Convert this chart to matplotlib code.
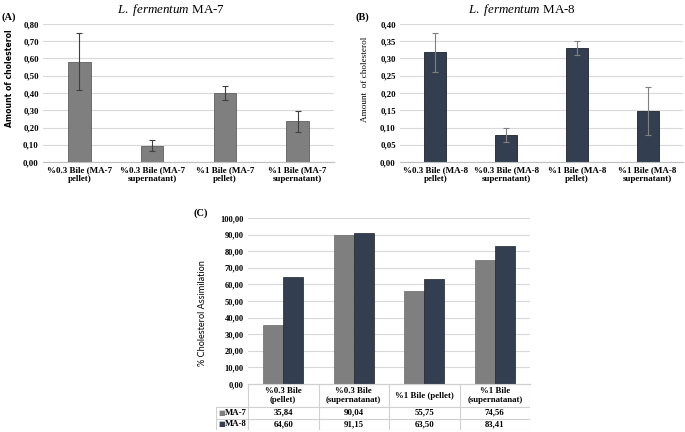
import numpy as np
import matplotlib
matplotlib.use("Agg")
import matplotlib.pyplot as plt

plt.rcParams['mathtext.fontset'] = 'custom'
plt.rcParams['mathtext.it'] = 'Liberation Serif:italic'
plt.rcParams['mathtext.rm'] = 'Liberation Serif'

# panel A / B data
cats_a = ["%0.3 Bile (MA-7\npellet)", "%0.3 Bile (MA-7\nsupernatant)",
          "%1 Bile (MA-7\npellet)", "%1 Bile (MA-7\nsupernatant)"]
vals_a = [0.58, 0.095, 0.40, 0.235]
err_a = [0.165, 0.03, 0.038, 0.06]

cats_b = ["%0.3 Bile (MA-8\npellet)", "%0.3 Bile (MA-8\nsupernatant)",
          "%1 Bile (MA-8\npellet)", "%1 Bile (MA-8\nsupernatant)"]
vals_b = [0.318, 0.078, 0.330, 0.147]
err_b = [0.056, 0.021, 0.021, 0.07]

# panel C data
cats_c = ["%0.3 Bile\n(pellet)", "%0.3 Bile\n(supernatanat)",
          "%1 Bile (pellet)", "%1 Bile\n(supernatanat)"]
ma7 = [35.84, 90.04, 55.75, 74.56]
ma8 = [64.60, 91.15, 63.50, 83.41]

gray = "#7f7f7f"
navy = "#333f50"
grid = "#d9d9d9"
serif = "Liberation Serif"

fig = plt.figure(figsize=(6.85, 4.32), dpi=100)


def style(ax, ymax, step, fs=6.3):
    ax.set_ylim(0, ymax)
    ax.set_xlim(-0.5, 3.5)
    ax.set_yticks(np.arange(0, ymax + step / 2, step))
    ax.yaxis.grid(True, color=grid, lw=0.8)
    ax.set_axisbelow(True)
    for s in ["top", "right", "left"]:
        ax.spines[s].set_visible(False)
    ax.spines["bottom"].set_color("#bfbfbf")
    ax.tick_params(length=0, labelsize=fs, pad=3)


# (A)
axa = fig.add_axes([43 / 685, 0.625, 291 / 685, 138 / 432])
x = np.arange(4)
axa.bar(x, vals_a, 0.31, color=gray, edgecolor="#5f5f5f", lw=0.6,
        yerr=err_a, capsize=2.5, error_kw=dict(ecolor="#404040", elinewidth=0.8, capthick=0.8))
style(axa, 0.8, 0.1)
axa.set_yticklabels([f"{v:.2f}".replace(".", ",") for v in np.arange(0, 0.85, 0.1)],
                    fontfamily=serif, fontweight="bold")
axa.set_xticks(x)
axa.set_xticklabels(cats_a, fontfamily=serif, fontweight="bold", fontsize=6.5, linespacing=1.1)
axa.set_ylabel("Amount of cholesterol", fontsize=5.6, fontweight="bold")
axa.yaxis.set_label_coords(-0.1, 0.61)
axa.set_title(r"$\it{L.\ fermentum}$ MA-7", fontfamily=serif, fontsize=9.4, pad=8, x=0.44)
fig.text(2 / 685, 1 - 20 / 432, "(A)", fontfamily=serif, fontweight="bold", fontsize=7.5)

# (B)
axb = fig.add_axes([400 / 685, 0.625, 283 / 685, 138 / 432])
axb.bar(x, vals_b, 0.31, color=navy, edgecolor="#1c232d", lw=0.6,
        yerr=err_b, capsize=2.5, error_kw=dict(ecolor="#808080", elinewidth=0.8, capthick=0.8))
style(axb, 0.4, 0.05)
axb.set_yticklabels([f"{v:.2f}".replace(".", ",") for v in np.arange(0, 0.425, 0.05)],
                    fontfamily=serif, fontweight="bold")
axb.set_xticks(x)
axb.set_xticklabels(cats_b, fontfamily=serif, fontweight="bold", fontsize=6.5, linespacing=1.1)
axb.set_ylabel("Amount  of cholesterol", fontsize=6.6, fontfamily=serif)
axb.yaxis.set_label_coords(-0.11, 0.6)
axb.set_title(r"$\it{L.\ fermentum}$ MA-8", fontfamily=serif, fontsize=9.4, pad=8, x=0.43)
fig.text(356 / 685, 1 - 20 / 432, "(B)", fontfamily=serif, fontweight="bold", fontsize=7.5)

# (C)
axc = fig.add_axes([248 / 685, 48 / 432, 282 / 685, 166 / 432])
w = 0.285
axc.bar(x - w / 2, ma7, w, color=gray, edgecolor="#6a6a6a", lw=0.5)
axc.bar(x + w / 2, ma8, w, color=navy, edgecolor="#1c232d", lw=0.5)
style(axc, 100, 10, fs=6.0)
axc.set_yticklabels([f"{v:.2f}".replace(".", ",") for v in np.arange(0, 101, 10)],
                    fontfamily=serif, fontweight="bold")
axc.set_xticks([])
axc.set_ylabel("% Cholesterol Assimilation", fontsize=6.6, fontfamily="Lato")
axc.yaxis.set_label_coords(-0.145, 0.43)
fig.text(193 / 685, 1 - 216 / 432, "(C)", fontfamily=serif, fontweight="bold", fontsize=7.5)

# data table under (C)
hdr = 32 / 70.5
tab = fig.add_axes([216 / 685, 2 / 432, 314 / 685, 46 / 432])
tab.set_xlim(-0.5 - hdr, 3.5)
tab.set_ylim(0, 46)
tab.axis("off")
lc = "#d0d0d0"
rows_y = [46, 23, 11.5, 0]
for yy in rows_y[1:]:
    tab.plot([-0.5 - hdr, 3.5], [yy, yy], color=lc, lw=0.8)
tab.plot([-0.5, 3.5], [46, 46], color=lc, lw=0.8)
tab.plot([-0.5 - hdr, -0.5 - hdr], [0, 23], color=lc, lw=0.8)
for xx in np.arange(-0.5, 3.6, 1):
    tab.plot([xx, xx], [0, 46], color=lc, lw=0.8)
for i, c in enumerate(cats_c):
    tab.text(i, 34.5, c, ha="center", va="center", fontfamily=serif,
             fontweight="bold", fontsize=6.3, linespacing=1.1)
for yy, vals, col, name in [(17.25, ma7, gray, "MA-7"), (5.75, ma8, navy, "MA-8")]:
    tab.text(-0.5 - hdr + 0.04, yy, "■", color=col, ha="left", va="center", fontsize=5)
    tab.text(-0.5 - hdr + 0.13, yy, name, ha="left", va="center", fontfamily=serif,
             fontweight="bold", fontsize=6.3)
    for i, v in enumerate(vals):
        tab.text(i, yy, f"{v:.2f}".replace(".", ","), ha="center", va="center",
                 fontfamily=serif, fontweight="bold", fontsize=6.3)

fig.savefig("out.png", dpi=100)
